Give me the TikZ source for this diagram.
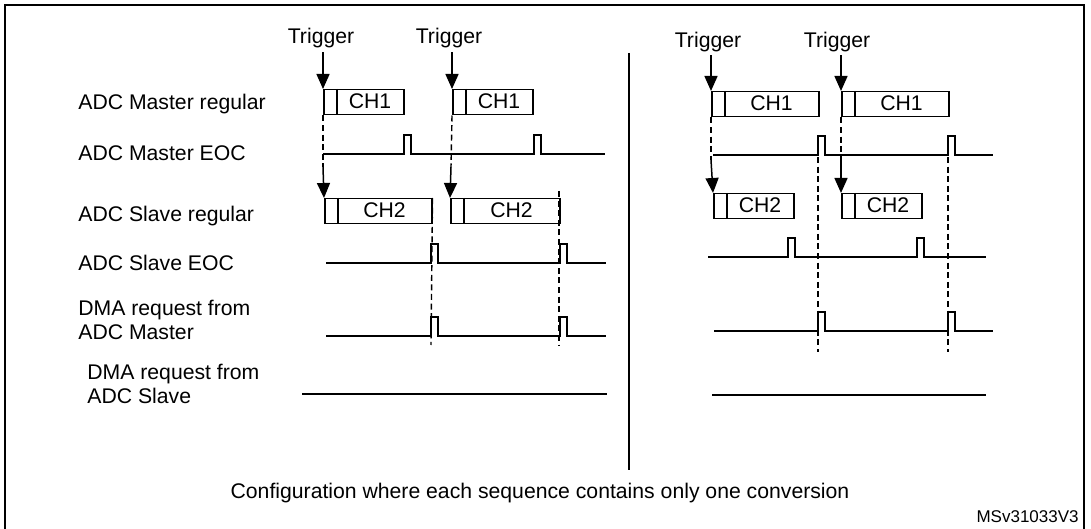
\documentclass[tikz,border=0pt]{standalone}
\usepackage{fontspec}
\setmainfont{Liberation Sans}
\usetikzlibrary{arrows.meta}
\newcommand\chbox[5]{% name, x0, x1, y(top), text
  \node[draw,line width=0.75pt,minimum width={(#3-#2)*0.5pt},minimum height=12.5pt,inner sep=0pt,anchor=north west] (#1) at (#2,#4) {};
  \draw[line width=0.7pt] (#2+14,#4) -- (#2+14,#4+25);
  \node[lbl] at ({(#2+14+#3)/2},#4+12.5) {#5};}
\newcommand\pulse[5]{% y, x0, x1, p1, p2
  \draw[sig] (#2,#1) -- (#4,#1) -- (#4,#1-19) -- (#4+7,#1-19) -- (#4+7,#1) -- (#5,#1) -- (#5,#1-19) -- (#5+7,#1-19) -- (#5+7,#1) -- (#3,#1);}
\begin{document}
\begin{tikzpicture}[x=0.5pt,y=-0.5pt,
  lbl/.style={font=\fontsize{10.6pt}{12pt}\selectfont,inner sep=0pt},
  lft/.style={lbl,anchor=west,align=left},
  sig/.style={line width=0.75pt},
  dsh/.style={line width=0.7pt,dash pattern=on 3pt off 1.8pt},
  arr/.style={line width=0.75pt,-{Triangle[width=6.5pt,length=7.5pt]}}]
\useasboundingbox (0,0) rectangle (1091,529);
\draw[line width=1.1pt] (5,560) -- (5,5) -- (1084,5) -- (1084,560);
% left labels
\node[lft] (l1) at (78,104) {ADC Master regular};
\node[lft] (l2) at (78,153) {ADC Master EOC};
\node[lft] (l3) at (78,216) {ADC Slave regular};
\node[lft] (l4) at (78,263) {ADC Slave EOC};
\node[lft] (l5) at (78,320) {DMA request from\\ADC Master};
\node[lft] (l6) at (87,384) {DMA request from\\ADC Slave};
% separator
\draw[line width=1.1pt] (629,53) -- (629,470);
% ---------- left part
\node[lbl] (t1) at (321,38) {Trigger};
\node[lbl] (t2) at (449,38) {Trigger};
\chbox{m1}{323}{403}{89}{CH1}
\chbox{m2}{452}{532}{89}{CH1}
\draw[arr] (t1.south -| 323,0) ++(0,4) -- (m1.north west);
\draw[arr] (t2.south -| 452,0) ++(0,4) -- (m2.north west);
\pulse{154}{323}{605}{404}{534}
\coordinate (d1) at (323,167); \coordinate (d2) at (451,167);
\draw[dsh] (m1.south west) -- (d1);
\draw[dsh] (m2.south west) -- (d2);
\chbox{s1}{324}{431}{198}{CH2}
\chbox{s2}{450}{559}{198}{CH2}
\draw[arr] (d1) -- (s1.north west);
\draw[arr] (d2) -- (s2.north west);
\pulse{263}{326}{606}{431}{560}
\pulse{336}{326}{606}{431}{560}
\coordinate (e1) at (431,345); \coordinate (e2) at (559,345);
\draw[dsh] (s1.north east) -- (e1);
\draw[dsh] (559,191) -- (e2);
\draw[sig] (302,394) -- (607,394);
% ---------- right part
\node[lbl] (t3) at (708,42) {Trigger};
\node[lbl] (t4) at (837,42) {Trigger};
\chbox{m3}{711}{818}{91}{CH1}
\chbox{m4}{841}{948}{91}{CH1}
\draw[arr] (t3.south -| 711,0) ++(0,3) -- (m3.north west);
\draw[arr] (t4.south -| 841,0) ++(0,3) -- (m4.north west);
\pulse{155}{713}{993}{818}{948}
\coordinate (d3) at (711,160); \coordinate (d4) at (841,160);
\draw[dsh] (m3.south west) -- (d3);
\draw[dsh] (m4.south west) -- (d4);
\chbox{s3}{713}{793}{193}{CH2}
\chbox{s4}{841}{921}{193}{CH2}
\draw[arr] (d3) -- (s3.north west);
\draw[arr] (d4) -- (s4.north west);
\pulse{257}{708}{986}{788}{917}
\pulse{331}{714}{993}{818}{948}
\coordinate (f1) at (818,352); \coordinate (f2) at (948,352);
\coordinate (g1) at (818,157); \coordinate (g2) at (948,157);
\draw[dsh] (g1) -- (f1);
\draw[dsh] (g2) -- (f2);
\draw[sig] (712,395) -- (986,395);
% bottom text
\node[lbl] (cap) at (540,493) {Configuration where each sequence contains only one conversion};
\node[lbl,anchor=east,font=\fontsize{8.5pt}{10pt}\selectfont] (id) at (1079,517) {MSv31033V3};
\end{tikzpicture}
\end{document}
